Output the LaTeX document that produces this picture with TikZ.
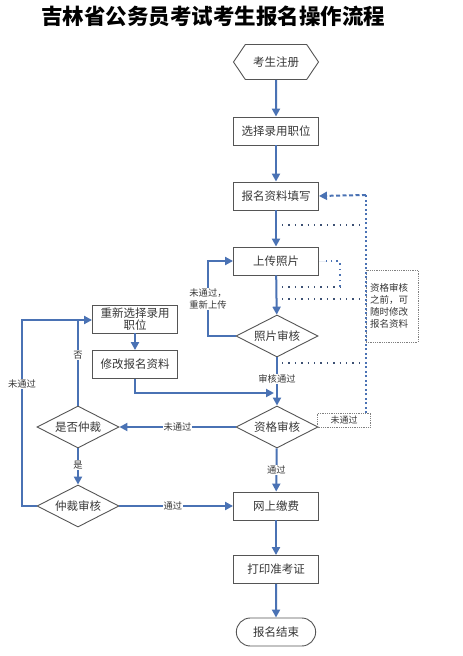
\documentclass[tikz,border=0pt]{standalone}
\usepackage{fontspec}
\setmainfont{Noto Sans CJK SC}
\usetikzlibrary{arrows.meta,shapes.geometric,shapes.symbols,shapes.misc}
\definecolor{arrowblue}{RGB}{74,114,180}
\definecolor{boxgray}{RGB}{85,85,85}
\definecolor{txtgray}{RGB}{55,55,55}
\definecolor{dotcol}{RGB}{60,80,115}
\tikzset{
  stepbox/.style={draw=boxgray,line width=0.9pt,minimum width=85pt,minimum height=28pt,inner sep=1pt,
    text=txtgray,font=\fontsize{11.5}{13}\selectfont,align=center},
  decision/.style={diamond,draw=boxgray,line width=0.9pt,minimum width=82pt,minimum height=42pt,inner sep=0pt,aspect=1.95,
    text=txtgray,font=\fontsize{11.5}{13}\selectfont},
  arr/.style={draw=arrowblue,line width=2pt,-{Triangle[length=8pt,width=8pt]}},
  lbl/.style={text=txtgray,font=\fontsize{9.3}{11.5}\selectfont,fill=white,inner sep=1pt,align=center},
  dotline/.style={draw=dotcol,line width=1.4pt,dash pattern=on 1.4pt off 5pt},
  bluedot/.style={draw=arrowblue,line width=2pt,dash pattern=on 2pt off 2.5pt},
}
\begin{document}
\begin{tikzpicture}[x=1pt,y=-1pt]
\useasboundingbox[fill=white] (0,0) rectangle (463,656);
\node[font=\fontsize{21.5}{24}\selectfont\bfseries,text=black] (title) at (213,16) {吉林省公务员考试考生报名操作流程};
% main column
\node[signal,signal to=west and east,signal pointer angle=112,draw=boxgray,line width=0.9pt,
      minimum width=85pt,minimum height=35pt,inner sep=1pt,text=txtgray,font=\fontsize{11.5}{13}\selectfont] (start) at (276,62) {考生注册};
\node[stepbox] (b1) at (276,131) {选择录用职位};
\node[stepbox] (b2) at (276,196) {报名资料填写};
\node[stepbox] (b3) at (276,261) {上传照片};
\node[decision] (d1) at (277,336) {照片审核};
\node[decision] (d2) at (277,427) {资格审核};
\node[stepbox] (b6) at (276,506) {网上缴费};
\node[stepbox] (b7) at (276,569.5) {打印准考证};
\node[rounded rectangle,draw=boxgray,line width=0.9pt,minimum width=86pt,minimum height=28pt,
      text=txtgray,font=\fontsize{11.5}{13}\selectfont] (end) at (276,632) {报名结束};
% left column
\node[stepbox,text width=82pt,inner sep=0pt,font=\fontsize{11.5}{12.5}\selectfont] (b4) at (135,319) {重新选择录用\\职位};
\node[stepbox] (b5) at (135,364.5) {修改报名资料};
\node[decision] (d3) at (78,427) {是否仲裁};
\node[decision] (d4) at (78,506) {仲裁审核};
% note boxes
\node[draw=gray,densely dotted,line width=0.8pt,minimum width=52pt,minimum height=72pt,text width=44pt,
      text=txtgray,font=\fontsize{9.5}{12}\selectfont,align=left,inner sep=3pt] (note) at (392,306) {资格审核\\之前，可\\随时修改\\报名资料};
\node[draw=gray,densely dotted,line width=0.8pt,minimum width=53pt,minimum height=14pt,inner sep=1pt,
      text=txtgray,font=\fontsize{9}{10}\selectfont] (nf) at (344,420) {未通过};
% main arrows
\draw[arr] (start) -- (b1);
\draw[arr] (b1) -- (b2);
\draw[arr] (b2) -- (b3);
\draw[arr] (b3) -- (d1);
\draw[arr] (d1) -- node[lbl,pos=0.45] (l1) {审核通过} (d2);
\draw[arr] (d2) -- node[lbl,pos=0.5] (l2) {通过} (b6);
\draw[arr] (b6) -- (b7);
\draw[arr] (b7) -- (end);
% photo retry loop
\coordinate (c1) at (208,336);
\draw[arr] (d1.west) -- (c1) |- (b3.west);
\node[lbl] (l3) at (208,299) {未通过，\\重新上传};
% left parts
\draw[arr] (d2.west) -- node[lbl,pos=0.5] (l4) {未通过} (d3.east);
\coordinate (c2) at (78,320);
\draw[arr] (d3.north) -- (c2) -- (b4.west |- c2);
\node[lbl] (l5) at (78,355) {否};
\draw[arr] (b4) -- (b5);
\coordinate (c3) at (135,393);
\coordinate (c4) at (274,393);
\draw[arr] (b5.south) -- (c3) -- (c4);
\draw[arr] (d3.south) -- node[lbl,pos=0.45] (l6) {是} (d4.north);
\coordinate (c5) at (22,506);
\coordinate (c6) at (22,320);
\draw[draw=arrowblue,line width=2pt] (d4.west) -- (c5) -- (c6) -- (c2);
\node[lbl] (l7) at (22,384) {未通过};
\draw[arr] (d4.east) -- node[lbl,pos=0.47] (l8) {通过} (b6.west);
% dotted feedback
\coordinate (v1) at (366,195);
\coordinate (v2) at (366,413);
\draw[bluedot] (v2) -- (v1);
\draw[draw=arrowblue,line width=2pt,dash pattern=on 4pt off 2.5pt,-{Triangle[length=8pt,width=8pt]}] (v1) -- (b2.east);
\foreach \yy in {225,299,363}{
  \draw[dotline] (282,\yy) -- (365,\yy);
}
\coordinate (p1) at (282,287);
\coordinate (p2) at (340,287);
\coordinate (p3) at (340,261);
\draw[dotline] (p1) -- (p2);
\draw[draw=arrowblue,line width=1.6pt,dash pattern=on 1.6pt off 4pt] (p2) -- (p3) -- (326,261);
\draw[arr,draw=none,fill=arrowblue] (327,261) -- (b3.east);
\end{tikzpicture}
\end{document}
